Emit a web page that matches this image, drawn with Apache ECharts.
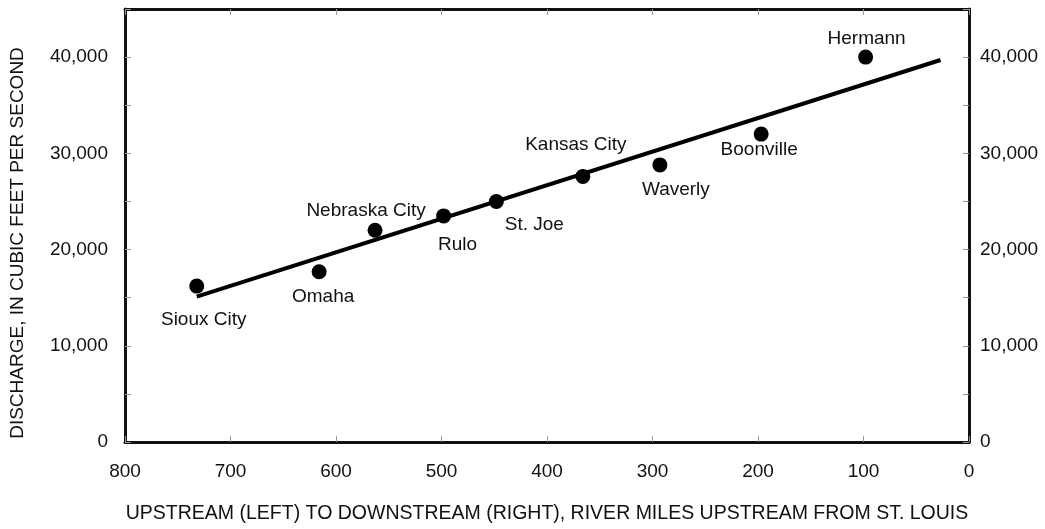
<!DOCTYPE html>
<html>
<head>
<meta charset="utf-8">
<script src="https://cdn.jsdelivr.net/npm/echarts@6/dist/echarts.min.js"></script>
<style>
  html, body { margin: 0; padding: 0; background: #fff; }
  #chart { width: 1045px; height: 529px; }
</style>
</head>
<body>
<div id="chart"></div>
<script>
// Gaging stations along the Missouri River
const cities = ['Sioux City', 'Omaha', 'Nebraska City', 'Rulo', 'St. Joe',
                'Kansas City', 'Waverly', 'Boonville', 'Hermann'];
const riverMiles = [732, 616, 563, 498, 448, 366, 293, 197, 98];
const discharge = [16200, 17700, 22000, 23500, 25000, 27600, 28800, 32000, 40000];

// Fitted trend line end points
const fitMiles = [732, 27];
const fitDischarge = [15100, 39700];

// Label placement relative to each station marker (px)
const labelOffsets = [[7, 34], [4, 25], [-9, -20], [14, 29], [38, 23],
                      [-7, -32], [16, 25], [-2, 16], [1, -18]];

const FONT = 'Arial, "Liberation Sans", Helvetica, sans-serif';
const TXT = '#111';

const chart = echarts.init(document.getElementById('chart'), null, { renderer: 'canvas' });

const fmt = v => (v % 10000 === 0 ? v.toLocaleString('en-US') : '');

const xBase = {
  type: 'value', min: 0, max: 800, interval: 100, inverse: true,
  axisLine: { show: true, onZero: false, lineStyle: { color: '#111', width: 3 } },
  axisTick: { show: true, inside: true, length: 6, lineStyle: { color: '#999', width: 1 } },
  splitLine: { show: false }
};
const yBase = {
  type: 'value', min: 0, max: 45000, interval: 5000,
  axisLine: { show: true, onZero: false, lineStyle: { color: '#111', width: 3 } },
  axisTick: { show: true, inside: true, length: 6, lineStyle: { color: '#999', width: 1 } },
  splitLine: { show: false }
};

chart.setOption({
  backgroundColor: '#fff',
  animation: false,
  grid: { left: 125, right: 76, top: 9, bottom: 77, containLabel: false },
  xAxis: [
    Object.assign({}, xBase, {
      position: 'bottom',
      name: 'UPSTREAM (LEFT) TO DOWNSTREAM (RIGHT), RIVER MILES UPSTREAM FROM ST. LOUIS',
      nameLocation: 'middle', nameGap: 62,
      nameTextStyle: { fontFamily: FONT, fontSize: 19.5, color: TXT },
      axisLabel: { show: true, margin: 20, fontFamily: FONT, fontSize: 19, color: TXT }
    }),
    Object.assign({}, xBase, { position: 'top', axisLabel: { show: false } })
  ],
  yAxis: [
    Object.assign({}, yBase, {
      position: 'left',
      axisLabel: { show: true, margin: 17, fontFamily: FONT, fontSize: 19, color: TXT, formatter: fmt }
    }),
    Object.assign({}, yBase, {
      position: 'right',
      axisLabel: { show: true, margin: 11, fontFamily: FONT, fontSize: 19, color: TXT, formatter: fmt }
    })
  ],
  graphic: [{
    type: 'text',
    rotation: Math.PI / 2,
    x: 18, y: 243,
    style: {
      text: 'DISCHARGE, IN CUBIC FEET PER SECOND',
      font: '19px ' + FONT, fill: TXT,
      align: 'center', verticalAlign: 'middle'
    }
  }],
  series: [
    {
      type: 'line',
      data: fitMiles.map((m, i) => [m, fitDischarge[i]]),
      showSymbol: false,
      lineStyle: { color: '#000', width: 4 },
      z: 2
    },
    {
      type: 'scatter',
      symbol: 'circle',
      symbolSize: 15,
      itemStyle: { color: '#000', opacity: 1 },
      data: cities.map((c, i) => ({
        name: c,
        value: [riverMiles[i], discharge[i]],
        label: { offset: labelOffsets[i] }
      })),
      label: {
        show: true, position: 'inside', formatter: '{b}',
        fontFamily: FONT, fontSize: 19, color: TXT
      },
      z: 3
    }
  ]
});
</script>
</body>
</html>
